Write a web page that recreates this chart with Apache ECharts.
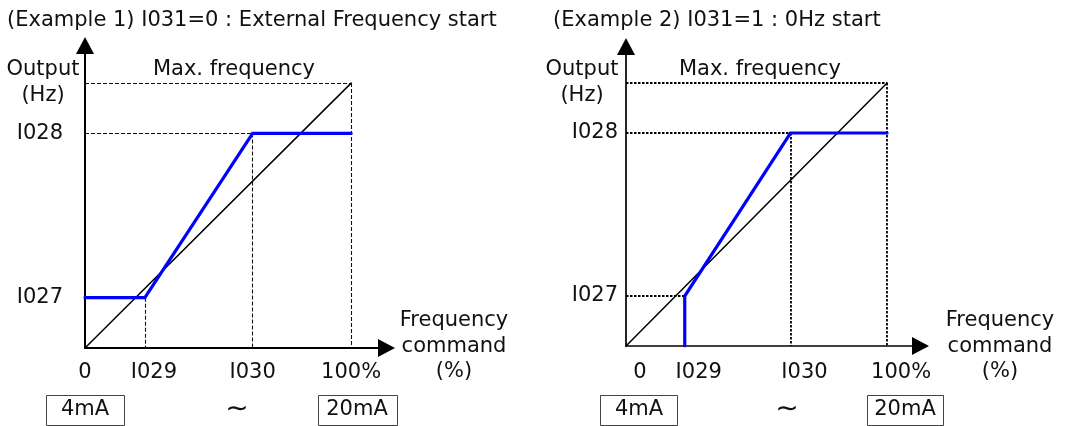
<!DOCTYPE html>
<html>
<head>
<meta charset="utf-8">
<script src="https://cdn.jsdelivr.net/npm/echarts@6/dist/echarts.min.js"></script>
<style>
  html, body { margin: 0; padding: 0; background: #fff; }
  #chart { width: 1067px; height: 426px; }
</style>
</head>
<body>
<div id="chart"></div>
<script>
// Output frequency (% of max. frequency) against the analog frequency command (%)
const I027 = 19;     // output at the low end of the command range
const I028 = 81;     // output at the high end of the command range
const I029 = 22.5;   // command where the bias point sits
const I030 = 63;     // command where the gain point sits
const MAX = 100;

const percentTicks = [0, I029, I030, MAX];
const percentLabels = ['0', 'I029', 'I030', '100%'];
const outputTicks = [I027, I028];
const outputLabels = ['I027', 'I028'];

const proportional = [[0, 0], [MAX, MAX]];
const example1Output = [[0, I027], [I029, I027], [I030, I028], [MAX, I028]];
const example2Output = [[I029, 0], [I029, I027], [I030, I028], [MAX, I028]];

const example1Guides = [
  [[0, MAX], [MAX, MAX]],
  [[MAX, MAX], [MAX, 0]],
  [[0, I028], [I030, I028]],
  [[I030, I028], [I030, 0]],
  [[I029, I027], [I029, 0]]
];
const example2Guides = [
  [[0, MAX], [MAX, MAX]],
  [[MAX, MAX], [MAX, 0]],
  [[0, I028], [I030, I028]],
  [[I030, I028], [I030, 0]],
  [[0, I027], [I029, I027]]
];

const FONT = "'DejaVu Sans', 'Liberation Sans', sans-serif";
const FS = 21;

function xAxis(gridIndex, max, width, margin, labelRich) {
  return {
    type: 'value', gridIndex, min: 0, max,
    axisLine: {
      show: true, onZero: false,
      symbol: ['none', 'triangle'], symbolSize: [18, 17],
      lineStyle: { color: '#000', width }
    },
    axisTick: { show: false },
    splitLine: { show: false },
    axisLabel: {
      customValues: percentTicks,
      margin,
      color: '#111', fontFamily: FONT, fontSize: FS,
      formatter: v => {
        const t = percentLabels[percentTicks.indexOf(v)];
        return labelRich ? labelRich(t) : t;
      },
      rich: {
        s: { fontFamily: FONT, fontSize: FS, color: '#111', padding: [0, 0, 0, 18] },
        p: { fontFamily: FONT, fontSize: FS, color: '#111', padding: [0, 0, 0, 28] }
      }
    }
  };
}

function yAxis(gridIndex, max, width, margin) {
  return {
    type: 'value', gridIndex, min: 0, max,
    axisLine: {
      show: true, onZero: false,
      symbol: ['none', 'triangle'], symbolSize: [18, 17],
      lineStyle: { color: '#000', width }
    },
    axisTick: { show: false },
    splitLine: { show: false },
    axisLabel: {
      customValues: outputTicks,
      margin,
      color: '#111', fontFamily: FONT, fontSize: FS,
      formatter: v => outputLabels[outputTicks.indexOf(v)]
    }
  };
}

function guides(index, data, color, width, dash) {
  return {
    type: 'lines', coordinateSystem: 'cartesian2d',
    xAxisIndex: index, yAxisIndex: index, z: 1,
    lineStyle: { color, width, type: dash, opacity: 1 },
    data: data.map(c => ({ coords: c }))
  };
}

function curve(index, data, color, width, z) {
  return {
    type: 'line', xAxisIndex: index, yAxisIndex: index, z,
    data, showSymbol: false, symbol: 'none',
    lineStyle: { color, width, cap: 'round', join: 'miter' }
  };
}

function text(x, y, t, align, size) {
  return {
    type: 'text', x, y,
    style: { text: t, fill: '#111', font: (size || FS) + 'px ' + FONT, textAlign: align || 'center', textVerticalAlign: 'middle' }
  };
}

function box(cx, left, right, t) {
  return [
    { type: 'rect', shape: { x: left + 0.5, y: 395.5, width: right - left, height: 30 }, style: { fill: 'none', stroke: '#444', lineWidth: 1 } },
    text(cx, 410, t)
  ];
}

const chart = echarts.init(document.getElementById('chart'), null, { renderer: 'canvas' });

chart.setOption({
  animation: false,
  backgroundColor: '#fff',
  grid: [
    { left: 85, top: 45.5, right: 680.5, bottom: 78 },
    { left: 626, top: 46.5, right: 146.5, bottom: 80 }
  ],
  xAxis: [
    xAxis(0, 113.3, 2, 14, t => (t === 'I029' ? '{s|' + t + '}' : t)),
    xAxis(1, 112.8, 1.7, 16, t => '{p|' + t + '}')
  ],
  yAxis: [
    yAxis(0, 114.2, 2, 22),
    yAxis(1, 113.9, 1.7, 8)
  ],
  series: [
    guides(0, example1Guides, '#111', 1.1, [4, 2]),
    guides(1, example2Guides, '#000', 1.8, [2.5, 1.5]),
    curve(0, proportional, '#000', 1.5, 2),
    curve(1, proportional, '#000', 1.5, 2),
    curve(0, example1Output, '#0000ff', 3.2, 3),
    curve(1, example2Output, '#0000ff', 3.2, 3)
  ],
  graphic: [
    text(7, 21, '(Example 1) I031=0 : External Frequency start', 'left'),
    text(553, 21, '(Example 2) I031=1 : 0Hz start', 'left'),
    text(43, 70, 'Output'),
    text(43, 96, '(Hz)'),
    text(582, 70, 'Output'),
    text(582, 96, '(Hz)'),
    text(234, 70, 'Max. frequency'),
    text(760, 70, 'Max. frequency'),
    text(454, 321, 'Frequency'),
    text(454, 347, 'command'),
    text(454, 372, '(%)'),
    text(1000, 321, 'Frequency'),
    text(1000, 347, 'command'),
    text(1000, 372, '(%)'),
    ...box(85, 46, 124, '4mA'),
    ...box(357, 318, 397, '20mA'),
    text(237, 410, '∼', 'center', 28),
    ...box(639, 600, 677, '4mA'),
    ...box(905, 867, 943, '20mA'),
    text(787, 410, '∼', 'center', 28)
  ]
});
</script>
</body>
</html>
